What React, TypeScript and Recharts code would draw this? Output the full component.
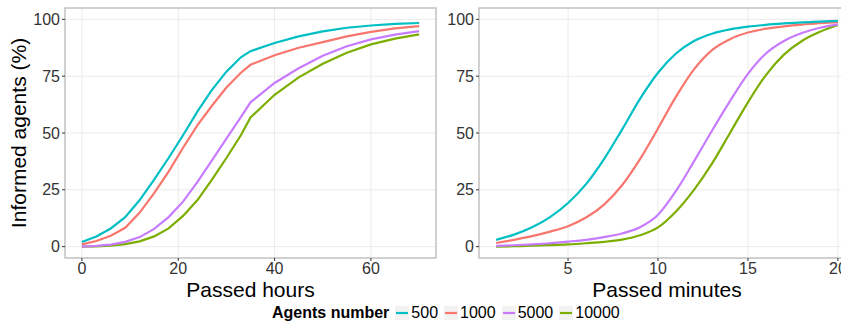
// Informed agents over time: hours panel + minutes panel, ggplot look

import {
  LineChart,
  Line,
  XAxis,
  YAxis,
  CartesianGrid,
  ReferenceArea,
  Label,
} from 'recharts';

// ── data ──
const HOURS = [0, 3, 6, 9, 12, 15, 18, 21, 24, 27, 30, 33, 35, 40, 45, 50, 55, 60, 65, 70];
const HOURS_500 = [2.0, 4.5, 8, 13, 20.5, 29.5, 39, 49, 59.5, 69, 77, 83.3, 86, 89.6, 92.5, 94.7, 96.3, 97.3, 98.0, 98.4];
const HOURS_1000 = [1.0, 2.5, 4.8, 8.3, 15, 23.5, 33, 43.5, 53.5, 62, 70, 76.5, 80, 84.2, 87.5, 90, 92.5, 94.5, 96, 97];
const HOURS_5000 = [0, 0.3, 0.9, 2.1, 4.2, 7.8, 13, 19.8, 28.5, 38, 47.5, 57, 63.5, 72, 78.5, 84, 88.2, 91.2, 93.3, 94.8];
const HOURS_10000 = [0, 0.1, 0.4, 1.1, 2.3, 4.5, 8, 13.5, 20.5, 29.5, 39, 49, 56.8, 66.8, 74.5, 80.5, 85.3, 89, 91.5, 93.4];

const MINUTES = [1, 2, 3, 4, 5, 6, 7, 8, 9, 10, 11, 12, 13, 14, 15, 16, 17, 18, 19, 20];
const MINUTES_500 = [3.0, 5.3, 8.5, 13, 19.2, 27.5, 38.5, 51.5, 65, 76.5, 85, 90.5, 93.7, 95.6, 96.8, 97.6, 98.2, 98.7, 99, 99.3];
const MINUTES_1000 = [1.6, 3, 4.6, 6.6, 9, 12.8, 18.5, 27, 38.5, 52, 66, 78, 86.5, 91.3, 94.2, 95.9, 96.9, 97.7, 98.3, 98.8];
const MINUTES_5000 = [0.3, 0.6, 1, 1.5, 2.2, 3, 4.2, 5.8, 8.5, 14, 24.5, 37.5, 51, 64, 76, 85, 90.5, 94, 96.3, 97.8];
const MINUTES_10000 = [0, 0.2, 0.4, 0.7, 1.0, 1.5, 2.1, 3.1, 5, 8.5, 15.5, 25, 36.5, 50, 63.5, 75.5, 84.5, 90.5, 94.5, 97.5];

const HOUR_TICKS = [0, 20, 40, 60];
const MINUTE_TICKS = [5, 10, 15, 20];
const PCT_TICKS = [0, 25, 50, 75, 100];

// ggplot hue palette, drawn in factor order (1000, 10000, 500, 5000)
const SERIES = [
  { key: 'a1000', name: '1000', color: '#F8766D' },
  { key: 'a10000', name: '10000', color: '#7CAE00' },
  { key: 'a500', name: '500', color: '#00BFC4' },
  { key: 'a5000', name: '5000', color: '#C77CFF' },
];
const LEGEND_ORDER = ['500', '1000', '5000', '10000'];

const hourRows = HOURS.map((x, i) => ({
  x,
  a500: HOURS_500[i],
  a1000: HOURS_1000[i],
  a5000: HOURS_5000[i],
  a10000: HOURS_10000[i],
}));

const minuteRows = MINUTES.map((x, i) => ({
  x,
  a500: MINUTES_500[i],
  a1000: MINUTES_1000[i],
  a5000: MINUTES_5000[i],
  a10000: MINUTES_10000[i],
}));

const FONT = "'Liberation Sans', Arial, sans-serif";
const TICK = { fontSize: 16, fontFamily: FONT, fill: '#333333' };
const TICK_LINE = { stroke: '#333333' };
const GRID = '#EBEBEB';
const BORDER = '#C4C4C4';
const Y_DOMAIN: [number, number] = [-5, 105];

interface PanelProps {
  rows: typeof hourRows;
  domain: [number, number];
  ticks: number[];
  xTitle: string;
  yTitle?: string;
  yAxisWidth: number;
  width: number;
  curve: 'linear' | 'monotone';
}

function Panel({ rows, domain, ticks, xTitle, yTitle, yAxisWidth, width, curve }: PanelProps) {
  return (
    <LineChart
      width={width}
      height={323}
      data={rows}
      margin={{ top: 8, right: 5, bottom: 0, left: 0 }}
    >
      <CartesianGrid stroke={GRID} strokeWidth={1} />
      <XAxis
        dataKey="x"
        type="number"
        domain={domain}
        ticks={ticks}
        allowDataOverflow
        height={65}
        tick={TICK}
        tickLine={TICK_LINE}
        tickSize={3}
        tickMargin={2}
        axisLine={false}
      >
        <Label
          value={xTitle}
          position="insideBottom"
          offset={26}
          style={{ fontSize: 21, fontFamily: FONT, fill: '#000' }}
        />
      </XAxis>
      <YAxis
        type="number"
        domain={Y_DOMAIN}
        ticks={PCT_TICKS}
        allowDataOverflow
        width={yAxisWidth}
        tick={TICK}
        tickLine={TICK_LINE}
        tickSize={3}
        tickMargin={2}
        axisLine={false}
      >
        {yTitle && (
          <Label
            value={yTitle}
            angle={-90}
            position="insideLeft"
            offset={19}
            style={{ fontSize: 21, fontFamily: FONT, fill: '#000', textAnchor: 'middle' }}
          />
        )}
      </YAxis>
      {SERIES.map((s) => (
        <Line
          key={s.key}
          type={curve}
          dataKey={s.key}
          name={s.name}
          stroke={s.color}
          strokeWidth={2.2}
          dot={false}
          activeDot={false}
          isAnimationActive={false}
        />
      ))}
      {/* panel border */}
      <ReferenceArea
        x1={domain[0]}
        x2={domain[1]}
        y1={Y_DOMAIN[0]}
        y2={Y_DOMAIN[1]}
        fill="none"
        stroke={BORDER}
        strokeWidth={1.5}
        ifOverflow="visible"
      />
    </LineChart>
  );
}

function LegendRow() {
  const colorOf = (name: string) => SERIES.find((s) => s.name === name)?.color ?? '#000';
  return (
    <div
      style={{
        position: 'absolute',
        left: 272,
        top: 304,
        display: 'flex',
        alignItems: 'center',
        fontFamily: FONT,
        fontSize: 16,
        lineHeight: '18px',
        color: '#000',
      }}
    >
      <span style={{ fontWeight: 'bold', marginRight: 6 }}>Agents number</span>
      {LEGEND_ORDER.map((name) => (
        <span key={name} style={{ display: 'flex', alignItems: 'center', marginRight: 6 }}>
          <svg width={14} height={14} style={{ marginRight: 2 }}>
            <rect x={0} y={0} width={14} height={14} fill="#F2F2F2" />
            <line x1={1} y1={7} x2={13} y2={7} stroke={colorOf(name)} strokeWidth={2.2} />
          </svg>
          <span>{name}</span>
        </span>
      ))}
    </div>
  );
}

export default function App() {
  return (
    <div
      style={{
        position: 'fixed',
        left: 0,
        top: 0,
        width: 841,
        height: 323,
        overflow: 'hidden',
        background: '#fff',
      }}
    >
      <div style={{ position: 'absolute', left: 0, top: 0 }}>
        <Panel
          rows={hourRows}
          domain={[-3.5, 73.5]}
          ticks={HOUR_TICKS}
          xTitle="Passed hours"
          yTitle="Informed agents (%)"
          yAxisWidth={65}
          width={441}
          curve="linear"
        />
      </div>
      <div style={{ position: 'absolute', left: 440, top: 0 }}>
        <Panel
          rows={minuteRows}
          domain={[0.05, 20.95]}
          ticks={MINUTE_TICKS}
          xTitle="Passed minutes"
          yAxisWidth={39}
          width={420}
          curve="monotone"
        />
      </div>
      <LegendRow />
    </div>
  );
}
